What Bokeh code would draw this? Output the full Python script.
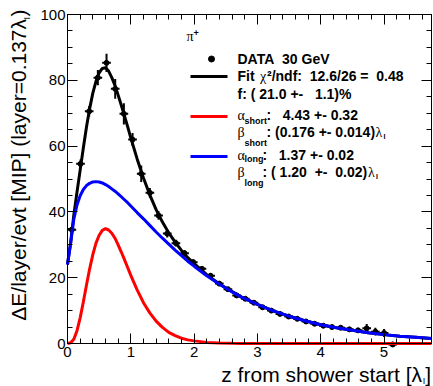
from bokeh.plotting import figure
from bokeh.models import Range1d, LinearAxis, Label, SingleIntervalTicker, FixedTicker
from bokeh.embed import file_html
from bokeh.resources import INLINE

# ---------------- data ----------------
layer_z = [0.0685, 0.2055, 0.3425, 0.4795, 0.6165, 0.7535, 0.8905, 1.0275, 1.1645, 1.3015,
           1.4385, 1.5755, 1.7125, 1.8495, 1.9865, 2.1235, 2.2605, 2.3975, 2.5345, 2.6715,
           2.8085, 2.9455, 3.0825, 3.2195, 3.3565, 3.4935, 3.6305, 3.7675, 3.9045, 4.0415,
           4.1785, 4.3155, 4.4525, 4.5895, 4.7265, 4.8635, 5.0005, 5.1375]
edep = [34.6, 54.6, 70.6, 80.8, 85.3, 77.4, 69.8, 62.0, 51.6, 45.8,
        38.9, 33.4, 30.5, 27.4, 24.7, 22.7, 20.6, 18.2, 16.5, 14.6,
        13.6, 12.4, 11.0, 10.0, 9.0, 8.2, 7.5, 6.7, 6.0, 5.4,
        5.0, 4.8, 4.3, 4.0, 4.6, 3.6, 3.2, -0.3]
edep_err = [1.0, 1.3, 1.6, 2.3, 2.8, 3.0, 3.2, 2.0, 2.5, 1.5,
            1.3, 1.2, 1.0, 1.0, 0.9, 0.8, 0.8, 0.7, 0.7, 0.6,
            0.6, 0.6, 0.6, 0.6, 0.5, 0.5, 0.5, 0.5, 0.5, 0.5,
            0.5, 0.6, 0.6, 0.7, 1.3, 1.2, 1.2, 0.8]
layer_half = 0.0685

curve_z = [0.00, 0.05, 0.10, 0.15, 0.20, 0.25, 0.30, 0.35, 0.40, 0.45, 0.50, 0.55, 0.60,
           0.65, 0.70, 0.75, 0.80, 0.85, 0.90, 0.95, 1.00, 1.10, 1.20, 1.30, 1.40, 1.50,
           1.60, 1.70, 1.80, 1.90, 2.00, 2.20, 2.40, 2.60, 2.75, 3.00, 3.25, 3.50, 3.75,
           4.00, 4.25, 4.50, 4.75, 5.00, 5.25, 5.50, 5.75]
fit_total = [24.0, 30.7, 39.1, 46.0, 52.7, 59.4, 65.8, 71.4, 76.1, 79.7, 82.3, 83.6, 83.8,
             82.8, 80.8, 78.4, 75.5, 72.4, 69.2, 65.9, 62.5, 56.1, 50.3, 45.2, 40.7, 36.9,
             33.6, 30.8, 28.3, 26.1, 24.3, 20.9, 18.1, 15.8, 14.1, 11.9, 9.9, 8.3, 6.9,
             5.7, 4.8, 4.0, 3.3, 2.7, 2.2, 1.9, 1.5]
fit_short = [0.0, 0.2, 1.3, 3.9, 7.8, 12.6, 17.8, 22.7, 27.0, 30.5, 32.9, 34.4, 34.9,
             34.5, 33.5, 32.0, 30.0, 27.8, 25.5, 23.1, 20.7, 16.3, 12.4, 9.3, 6.8, 4.9,
             3.4, 2.4, 1.6, 1.1, 0.8, 0.34, 0.15, 0.06, 0.03, 0.01, 0.0, 0.0, 0.0,
             0.0, 0.0, 0.0, 0.0, 0.0, 0.0, 0.0, 0.0]
fit_long = [24.0, 30.5, 37.8, 42.1, 44.9, 46.8, 48.0, 48.7, 49.1, 49.2, 49.1, 48.8, 48.3,
            47.7, 47.0, 46.3, 45.5, 44.6, 43.7, 42.8, 41.8, 39.8, 37.9, 35.9, 33.9, 32.0,
            30.2, 28.4, 26.7, 25.0, 23.5, 20.6, 18.0, 15.7, 14.1, 11.9, 9.9, 8.3, 6.9,
            5.7, 4.8, 4.0, 3.3, 2.7, 2.2, 1.9, 1.5]

# ---------------- layout ----------------
W, H = 433, 386
FL, FR, FT, FB = 67, 431, 14, 343      # pixel box of the data area
X0, X1 = 0.0, 5.75
Y0, Y1 = 0.0, 100.0


def dx(px):
    return X0 + (px - FL) * (X1 - X0) / (FR - FL)


def dy(py):
    return Y0 + (FB - py) * (Y1 - Y0) / (FB - FT)


# the frame covers the whole canvas; the axes are pinned to the data box
p = figure(width=W, height=H, output_backend="svg", toolbar_location=None,
           x_range=Range1d(dx(0), dx(W)), y_range=Range1d(dy(H), dy(0)),
           min_border=0)
p.grid.visible = False
p.background_fill_color = "white"
p.border_fill_color = "white"
p.outline_line_color = None


def style_axis(ax, standoff=3):
    ax.major_tick_in = 10
    ax.major_tick_out = 0
    ax.minor_tick_in = 5
    ax.minor_tick_out = 0
    ax.axis_line_color = "black"
    ax.axis_line_width = 1
    ax.major_tick_line_color = "black"
    ax.minor_tick_line_color = "black"
    ax.major_label_text_font = "Liberation Sans"
    ax.major_label_text_color = "black"
    ax.major_label_text_font_size = "15px"
    ax.major_label_standoff = standoff


xax = p.xaxis[0]
yax = p.yaxis[0]
xax.ticker = SingleIntervalTicker(interval=1, num_minor_ticks=5)
yax.ticker = SingleIntervalTicker(interval=20, num_minor_ticks=4)
style_axis(xax, 3)
style_axis(yax, 2)
xax.fixed_location = Y0
yax.fixed_location = X0
xax.bounds = (X0, X1)
yax.bounds = (Y0, Y1)

x_major = list(range(0, 6))
x_minor = [round(0.2 * k, 1) for k in range(29)]
y_major = list(range(0, 101, 20))
y_minor = list(range(0, 101, 5))


def frame_axis(side, ticks, length, loc, bounds):
    ax = LinearAxis(ticker=FixedTicker(ticks=[], minor_ticks=ticks))
    ax.minor_tick_in = length
    ax.minor_tick_out = 0
    ax.major_tick_in = 0
    ax.major_tick_out = 0
    ax.minor_tick_line_color = "black"
    ax.axis_line_color = "black"
    ax.fixed_location = loc
    ax.bounds = bounds
    p.add_layout(ax, side)


frame_axis("above", x_minor, 5, Y1, (X0, X1))
frame_axis("above", x_major, 10, Y1, (X0, X1))
frame_axis("right", y_minor, 5, X1, (Y0, Y1))
frame_axis("right", y_major, 10, X1, (Y0, Y1))

# ---------------- data points ----------------
p.segment(x0=[z - layer_half for z in layer_z], y0=edep,
          x1=[z + layer_half for z in layer_z], y1=edep,
          line_color="black", line_width=2)
p.segment(x0=layer_z, y0=[v - e for v, e in zip(edep, edep_err)],
          x1=layer_z, y1=[v + e for v, e in zip(edep, edep_err)],
          line_color="black", line_width=2)
p.scatter(layer_z, edep, size=5, marker="circle", fill_color="black", line_color="black")

# ---------------- fit curves ----------------
p.line(curve_z, fit_total, line_color="black", line_width=3)
p.line(curve_z, fit_long, line_color="#0000ff", line_width=3)
p.line(curve_z, fit_short, line_color="#ff0000", line_width=3)


# ---------------- texts ----------------
BASE_FIX = 0.33  # Bokeh draws the alphabetic baseline ~0.33 em lower than the anchor


def txt(s, px, py, size, font="Liberation Sans", style="normal", align="left", angle=0):
    if angle == 0:
        py = py - BASE_FIX * size
    else:
        px = px - BASE_FIX * size
    p.add_layout(Label(x=dx(px), y=dy(py), x_units="data", y_units="data", text=s,
                       text_font=font, text_font_size=f"{size}px", text_font_style=style,
                       text_align=align, text_baseline="alphabetic", angle=angle,
                       angle_units="deg", text_color="black"))


NB = "\u00a0"
G = "Liberation Serif"

# legend graphics
p.scatter([dx(211)], [dy(58.5)], size=6, marker="circle", fill_color="black", line_color="black")
p.line([dx(190), dx(227)], [dy(76)] * 2, line_color="black", line_width=3)
p.line([dx(190), dx(227)], [dy(116)] * 2, line_color="#ff0000", line_width=3)
p.line([dx(190), dx(227)], [dy(156)] * 2, line_color="#0000ff", line_width=3)

txt("\u03c0", 186, 40.5, 14, font=G)
txt("+", 193, 35, 9, style="bold")

txt("DATA" + NB + " 30 GeV", 237, 63, 14, style="bold")
txt("Fit ", 237, 80.5, 14, style="bold")
txt("\u03c7", 259.5, 80.5, 14, font=G)
txt("\u00b2/ndf:" + NB + " 12.6/26 =" + NB + " 0.48", 266.5, 80.5, 14, style="bold")
txt("f: ( 21.0 +-" + NB + NB + " 1.1)%", 237, 98, 14, style="bold")

txt("\u03b1", 237, 119.5, 14, font=G)
txt("short", 244, 123, 9, style="bold")
txt(":" + NB + NB + " 4.43 +- 0.32", 266, 119.5, 14, style="bold")

txt("\u03b2", 237, 136.5, 14, font=G)
txt("short", 244, 145.5, 9, style="bold")
txt(": (0.176 +- 0.014)", 266, 136.5, 14, style="bold")
txt("\u03bb", 375, 136.5, 14, font=G)
txt("I", 383, 138.5, 7, style="bold")

txt("\u03b1", 237, 159.5, 14, font=G)
txt("long", 244, 161.5, 9, style="bold")
txt(":" + NB + NB + " 1.37 +- 0.02", 262, 159.5, 14, style="bold")

txt("\u03b2", 237, 176.5, 14, font=G)
txt("long", 244, 185.5, 9, style="bold")
txt(":" + NB + "(" + NB + "1.20" + NB + " +-" + NB + " 0.02)", 262, 176.5, 14, style="bold")
txt("\u03bb", 367.5, 176.5, 14, font=G)
txt("I", 375.5, 178.5, 7, style="bold")

# axis titles
txt("]", 430.5, 381, 21, align="right")
txt("I", 424.8, 383.5, 9, align="right")
txt("z from shower start [\u03bb", 421.5, 381, 21, align="right")

txt(")", 25, 9, 21, align="right", angle=90)
txt("I", 29, 16.5, 9, align="right", angle=90)
txt("\u0394E/layer/evt [MIP] (layer=0.137\u03bb", 25, 18.5, 21, align="right", angle=90)

open("out.html", "w").write(file_html(p, INLINE))
